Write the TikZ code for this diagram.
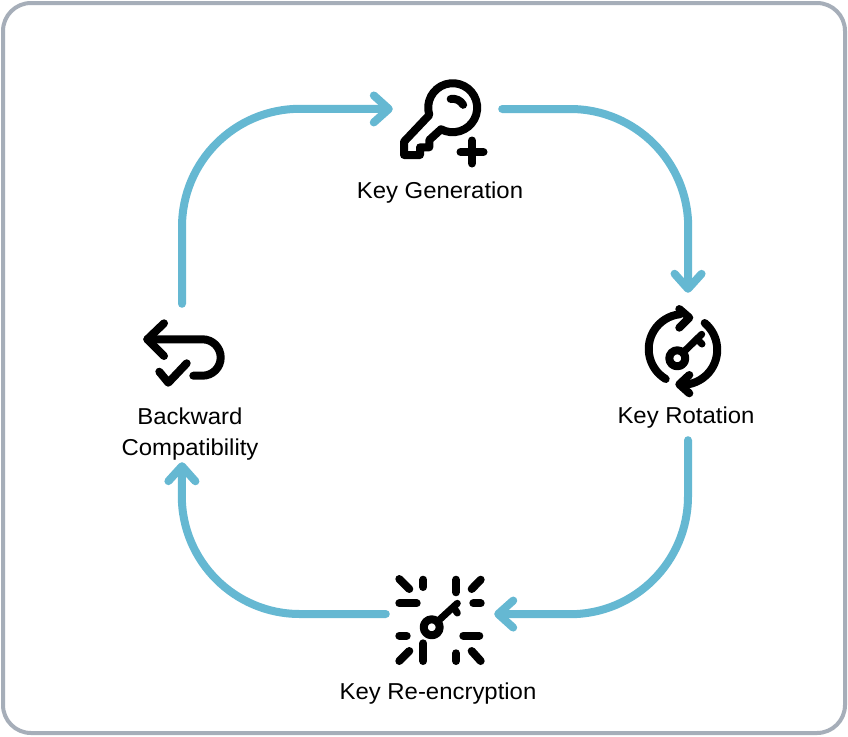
\documentclass[tikz,border=0pt]{standalone}
\usepackage{fontspec}
\setmainfont[FakeStretch=1.04]{Liberation Sans}
\usetikzlibrary{arrows.meta, positioning}
\definecolor{cflow}{HTML}{65B8D2}
\definecolor{cframe}{HTML}{A6AEB9}
\tikzset{
  every picture/.style={x=1pt, y=-1pt},
  frame/.style={draw=cframe, fill=white, line width=4pt, rounded corners=28pt},
  flow/.style={draw=cflow, line width=8pt, line cap=round, -{Straight Barb[length=15pt, width=27pt, line width=8pt, round]}},
  icon/.style={draw=black, line width=8pt, line cap=round, line join=round},
  spot/.style={inner sep=0pt, minimum width=#1},
  spot/.default=109pt,
  tag/.style={font=\fontsize{23}{31}\selectfont, inner sep=0pt, align=center},
}

\begin{document}
\begin{tikzpicture}
  \useasboundingbox (0,0) rectangle (848,736);
  \draw[frame] (3,3) rectangle (845,733);

  \node[spot, minimum height=40pt] (genicon) at (447.5,109) {};
  \node[spot=80pt, minimum height=116pt] (roticon) at (688,351) {};
  \node[spot=108pt, minimum height=40pt] (recicon) at (440,614) {};
  \node[spot=80pt, minimum height=70pt] (backicon) at (182,339) {};

  \node[tag] (genlabel) at (440,192.5) {Key Generation};
  \node[tag, minimum height=44pt] (rotlabel) at (686,418) {Key Rotation};
  \node[tag] (reclabel) at (438,693.5) {Key Re-encryption};
  \node[tag, minimum height=56pt] (backlabel) at (190,434) {Backward\\Compatibility};

  \draw[flow] (genicon.east) -- +(68,0) arc (-90:0:118) -- (roticon.north);
  \draw[flow] (rotlabel.south -| roticon.south) -- +(0,56) arc (0:90:118) -- (recicon.east);
  \draw[flow] (recicon.west) -- +(-86,0) arc (90:180:118) -- (backlabel.south -| backicon.south);
  \draw[flow] (backicon.north) -- +(0,-77) arc (180:270:118) -- (genicon.west);

  \draw[icon] (429.3,115) arc (162.7:478.4:24.5) -- (429.3,140) -- (429.3,147.3) -- (420,147.3) -- (420,155) -- (404,155) -- (404,141.7) -- cycle;
  \draw[icon] (450.7,99) arc (-100:-30:12);
  \draw[icon] (460.5,152) -- (483.5,152) (472,140.5) -- (472,163.5);

  \draw[icon] (665.7,379) arc (121:264:35);
  \draw[icon] (679.3,309) -- (689.3,317.7) -- (679.3,327.7);
  \draw[icon] (704.7,323) arc (-50:93:35);
  \draw[icon] (689.3,375) -- (679.3,384.3) -- (689.3,393.3);
  \draw[icon] (677.3,358.3) circle (8);
  \draw[icon, line width=7pt] (683,352.6) -- (701.7,334.3) (697,339) -- (702,344);

  \draw[icon] (431.7,627.3) circle (8);
  \draw[icon, line width=7pt] (437.5,621.5) -- (457.3,603.3) (454,608) -- (457.3,613);
  \foreach \xa/\ya/\xb/\yb in {399.3/579/409.3/589, 423.3/579.7/423.3/587, 456/579.7/456/592.3, 480.7/579.7/471.7/589,
    399.3/603.3/416.7/603.3, 473.3/603.3/480.7/603.3, 399.3/635.7/406.7/635.7, 463.3/635.7/479.3/635.7,
    399.3/661/409.3/651, 423.3/643.3/423.3/661, 456/653.3/456/661, 480.7/661/471.7/651}
    \draw[icon] (\xa,\ya) -- (\xb,\yb);

  \draw[icon] (164,323.3) -- (147.3,339.3) -- (164,356);
  \draw[icon] (147.3,339.3) -- (202.5,339.3) arc (-90:90:18.2) -- (193.3,375.7);
  \draw[icon] (159.3,371.7) -- (168.3,382.7) -- (186.7,363.3);
\end{tikzpicture}
\end{document}
